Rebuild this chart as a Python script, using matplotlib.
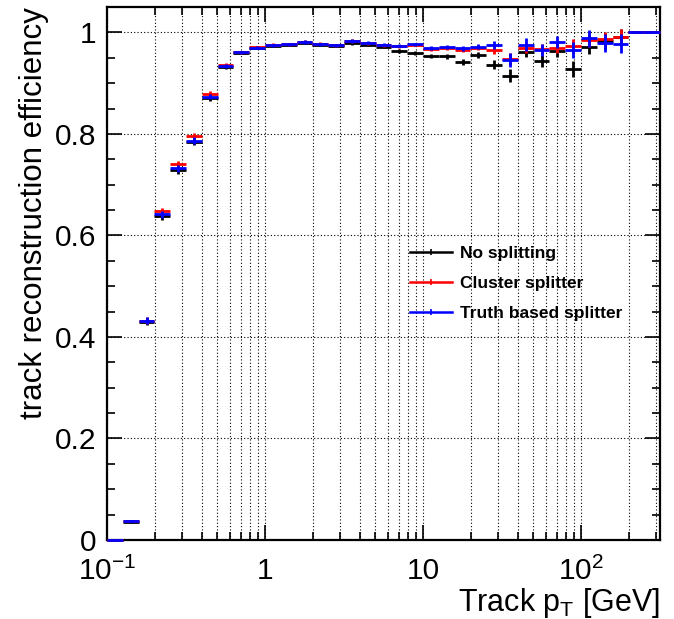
import matplotlib
matplotlib.use("Agg")
import matplotlib.pyplot as plt
import numpy as np
from matplotlib.lines import Line2D
from matplotlib.ticker import FixedLocator, LogLocator, MultipleLocator, NullFormatter

# 35 log bins, 0.1 decade wide, from 0.1 to 10^2.5 GeV
BIN_EDGES = np.logspace(-1, 2.5, 36)

EFF_NOSPLIT = [0.000, 0.036, 0.430, 0.638, 0.729, 0.785, 0.870, 0.932, 0.960, 0.970,
               0.974, 0.976, 0.980, 0.976, 0.974, 0.979, 0.976, 0.972, 0.963, 0.959,
               0.954, 0.953, 0.942, 0.955, 0.936, 0.915, 0.962, 0.943, 0.963, 0.928,
               0.971, 0.983, 0.990, 1.000, 1.000]
ERR_NOSPLIT = [0.000, 0.002, 0.007, 0.007, 0.007, 0.006, 0.005, 0.004, 0.003, 0.003,
               0.003, 0.003, 0.003, 0.003, 0.003, 0.003, 0.003, 0.003, 0.004, 0.004,
               0.004, 0.005, 0.006, 0.006, 0.009, 0.012, 0.011, 0.012, 0.012, 0.016,
               0.014, 0.015, 0.016, 0.000, 0.000]

EFF_CLUSTER = [0.000, 0.037, 0.432, 0.648, 0.740, 0.795, 0.879, 0.935, 0.961, 0.971,
               0.976, 0.977, 0.982, 0.978, 0.975, 0.983, 0.979, 0.975, 0.973, 0.976,
               0.968, 0.969, 0.966, 0.970, 0.966, 0.948, 0.969, 0.967, 0.970, 0.973,
               0.984, 0.986, 0.991, 1.000, 1.000]
ERR_CLUSTER = [0.000, 0.002, 0.007, 0.007, 0.007, 0.006, 0.005, 0.004, 0.003, 0.003,
               0.003, 0.003, 0.003, 0.003, 0.003, 0.003, 0.003, 0.003, 0.003, 0.003,
               0.004, 0.004, 0.005, 0.005, 0.008, 0.012, 0.010, 0.010, 0.010, 0.013,
               0.013, 0.014, 0.015, 0.000, 0.000]

EFF_TRUTH = [0.000, 0.037, 0.432, 0.642, 0.732, 0.787, 0.873, 0.933, 0.961, 0.970,
             0.975, 0.977, 0.981, 0.977, 0.975, 0.983, 0.980, 0.976, 0.974, 0.977,
             0.969, 0.972, 0.969, 0.972, 0.975, 0.946, 0.976, 0.966, 0.981, 0.965,
             0.988, 0.979, 0.978, 1.000, 1.000]
ERR_TRUTH = [0.000, 0.002, 0.007, 0.007, 0.007, 0.006, 0.005, 0.004, 0.003, 0.003,
             0.003, 0.003, 0.003, 0.003, 0.003, 0.003, 0.003, 0.003, 0.003, 0.003,
             0.004, 0.004, 0.005, 0.005, 0.008, 0.014, 0.012, 0.012, 0.011, 0.016,
             0.016, 0.017, 0.018, 0.000, 0.000]

SERIES = [
    ("No splitting", EFF_NOSPLIT, ERR_NOSPLIT, "black"),
    ("Cluster splitter", EFF_CLUSTER, ERR_CLUSTER, "red"),
    ("Truth based splitter", EFF_TRUTH, ERR_TRUTH, "blue"),
]

Y_TICKS = [0, 0.2, 0.4, 0.6, 0.8, 1.0]
Y_TICK_LABELS = ["0", "0.2", "0.4", "0.6", "0.8", "1"]
X_TICKS = [0.1, 1, 10, 100]
X_TICK_LABELS = [r"$\mathregular{10^{-1}}$", "1", "10", r"$\mathregular{10^{2}}$"]

plt.rcParams["font.family"] = ["Liberation Sans", "DejaVu Sans"]
plt.rcParams["mathtext.fontset"] = "custom"
plt.rcParams["mathtext.rm"] = "Liberation Sans"
plt.rcParams["mathtext.it"] = "Liberation Sans:italic"
plt.rcParams["mathtext.bf"] = "Liberation Sans:bold"


def main():
    fig = plt.figure(figsize=(6.74, 6.19), dpi=100)
    ax = fig.add_axes([0.1588, 0.1276, 0.8205, 0.8611])

    lo = BIN_EDGES[:-1]
    hi = BIN_EDGES[1:]
    centers = np.sqrt(lo * hi)
    handles = []
    for label, eff, err, color in SERIES:
        cont = ax.errorbar(centers, eff, yerr=err, xerr=[centers - lo, hi - centers],
                           fmt="none", ecolor=color, elinewidth=2.0, capsize=0, zorder=3)
        # the empty first bin sits on the frame, keep it visible like ROOT does
        for coll in cont.lines[2]:
            coll.set_clip_on(False)
        handles.append(Line2D([], [], color=color, lw=1.8, marker="|",
                              markersize=4, markeredgewidth=1.2, label=label))

    ax.set_xscale("log")
    ax.set_xlim(0.1, 10 ** 2.5)
    ax.set_ylim(0, 1.05)

    ax.xaxis.set_major_locator(FixedLocator(X_TICKS))
    ax.xaxis.set_minor_locator(LogLocator(base=10, subs=np.arange(2, 10), numticks=20))
    ax.xaxis.set_minor_formatter(NullFormatter())
    ax.set_xticklabels(X_TICK_LABELS)
    ax.yaxis.set_major_locator(FixedLocator(Y_TICKS))
    ax.yaxis.set_minor_locator(MultipleLocator(0.05))
    ax.set_yticklabels(Y_TICK_LABELS)

    ax.tick_params(which="both", direction="in", top=True, right=True,
                   labelsize=21.5, width=1.2)
    ax.tick_params(which="major", length=11)
    ax.tick_params(axis="x", which="major", pad=12)
    ax.tick_params(axis="y", which="major", pad=8)
    ax.tick_params(which="minor", length=5.5)
    for sp in ax.spines.values():
        sp.set_linewidth(1.6)
        sp.set_zorder(2.5)

    ax.grid(True, which="major", axis="y", color="black", linestyle=(0, (1, 2)), lw=0.8)
    ax.grid(True, which="both", axis="x", color="black", linestyle=(0, (1, 2)), lw=0.8)
    ax.set_axisbelow(True)

    ax.set_ylabel("track reconstruction efficiency", fontsize=22.5, loc="top", labelpad=4)
    ax.set_xlabel(r"Track p$_\mathregular{T}$ [GeV]", fontsize=22, loc="right", labelpad=0)

    ax.legend(handles=handles, loc="upper left", bbox_to_anchor=(0.548, 0.551),
              frameon=False, prop={"weight": "bold", "size": 12.5},
              handlelength=2.4, handletextpad=0.5, labelspacing=0.85,
              borderaxespad=0, borderpad=0)

    fig.savefig("out.png", dpi=100)
    plt.close(fig)


if __name__ == "__main__":
    main()
